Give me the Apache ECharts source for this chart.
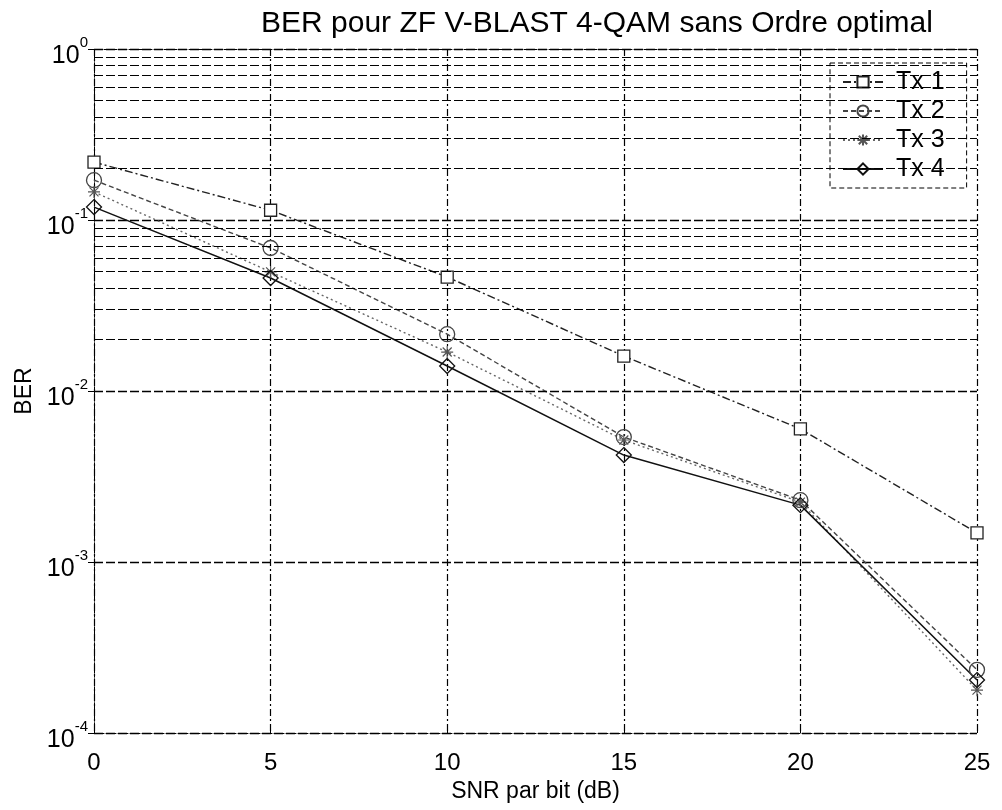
<!DOCTYPE html>
<html>
<head>
<meta charset="utf-8">
<script src="https://cdn.jsdelivr.net/npm/echarts@6/dist/echarts.min.js"></script>
<style>
  html, body { margin: 0; padding: 0; background: #fff; }
  #chart { width: 1002px; height: 810px; }
</style>
</head>
<body>
<div id="chart"></div>
<script>
// SNR axis (dB)
const snr = [0, 5, 10, 15, 20, 25];

// BER per transmit antenna
const tx1 = [0.218, 0.114, 0.0464, 0.0160, 0.0060, 0.00148];
const tx2 = [0.171, 0.0686, 0.0215, 0.00538, 0.00230, 0.000234];
const tx3 = [0.146, 0.0497, 0.0169, 0.00517, 0.00224, 0.000178];
const tx4 = [0.119, 0.0458, 0.0140, 0.00422, 0.00215, 0.000204];

const seriesNames = ['Tx 1', 'Tx 2', 'Tx 3', 'Tx 4'];

// y tick exponents (decades) and x ticks
const yExponents = [0, -1, -2, -3, -4];
const xTicks = [0, 5, 10, 15, 20, 25];

// minor grid values inside each decade (2..9 x 10^k)
const minorMultipliers = [2, 3, 4, 5, 6, 7, 8, 9];
const minorDecades = [-4, -3, -2, -1];

const minorLines = [];
minorDecades.forEach(function (k) {
  minorMultipliers.forEach(function (m) {
    minorLines.push({ yAxis: m * Math.pow(10, k) });
  });
});

const pair = function (ys) { return snr.map(function (x, i) { return [x, ys[i]]; }); };

const font = '"Liberation Sans", Arial, sans-serif';
const gridDash = [9, 3];

const asterisk = 'path://M0,-6L0,6M-6,0L6,0M-4.5,-4.5L4.5,4.5M-4.5,4.5L4.5,-4.5';

const chart = echarts.init(document.getElementById('chart'), null, { renderer: 'canvas' });

chart.setOption({
  animation: false,
  backgroundColor: '#fff',
  title: {
    text: 'BER pour ZF V-BLAST 4-QAM sans Ordre optimal',
    left: 256,
    top: 4,
    textStyle: { fontFamily: font, fontSize: 30, fontWeight: 'normal', color: '#000' }
  },
  legend: {
    data: seriesNames,
    orient: 'vertical',
    left: 830,
    top: 63,
    padding: [6, 22, 6, 12],
    itemGap: 3,
    itemWidth: 40,
    itemHeight: 14,
    backgroundColor: '#fff',
    borderColor: '#000',
    borderWidth: 1,
    borderType: [5, 3],
    textStyle: { fontFamily: font, fontSize: 25, color: '#000', lineHeight: 26, padding: [0, 0, 0, 8] }
  },
  grid: { left: 94, right: 25, top: 49, bottom: 77 },
  xAxis: [{
    type: 'value',
    min: 0,
    max: 25,
    interval: 5,
    name: 'SNR par bit (dB)',
    nameLocation: 'middle',
    nameGap: 42,
    nameTextStyle: { fontFamily: font, fontSize: 23, color: '#000' },
    axisLine: { show: true, lineStyle: { color: '#000', width: 1, type: [6, 2, 2, 2] } },
    axisTick: { show: true, inside: true, length: 6, lineStyle: { color: '#000' } },
    axisLabel: {
      margin: 18,
      fontFamily: font, fontSize: 24, color: '#000',
      formatter: function (v) { return xTicks.indexOf(v) >= 0 ? String(v) : ''; }
    },
    splitLine: { show: true, lineStyle: { color: '#000', width: 1.2, type: [7, 3, 2, 3] } }
  }, {
    type: 'value',
    position: 'top',
    min: 0,
    max: 25,
    interval: 5,
    axisLine: { show: true, lineStyle: { color: '#000', width: 1, type: [3, 2] } },
    axisTick: { show: true, inside: true, length: 6, lineStyle: { color: '#000' } },
    axisLabel: { show: false },
    splitLine: { show: false }
  }],
  yAxis: [{
    type: 'log',
    logBase: 10,
    min: 1e-4,
    max: 1,
    name: 'BER',
    nameLocation: 'middle',
    nameGap: 50,
    nameTextStyle: { fontFamily: font, fontSize: 23, color: '#000' },
    axisLine: { show: true, lineStyle: { color: '#000', width: 1, type: [6, 2, 2, 2] } },
    axisTick: { show: true, inside: true, length: 6, lineStyle: { color: '#000' } },
    axisLabel: {
      margin: 6,
      formatter: function (v) {
        const e = Math.round(Math.log10(v));
        if (yExponents.indexOf(e) < 0) return '';
        return '{b|10}{e|' + e + '}';
      },
      rich: {
        b: { fontFamily: font, fontSize: 25, color: '#000', padding: [14, 0, 0, 0] },
        e: { fontFamily: font, fontSize: 15, color: '#000', padding: [0, 0, 12, 0] }
      }
    },
    splitLine: { show: true, lineStyle: { color: '#000', width: 1.3, type: gridDash } }
  }, {
    type: 'log',
    logBase: 10,
    min: 1e-4,
    max: 1,
    position: 'right',
    axisLine: { show: true, lineStyle: { color: '#000', width: 1, type: [6, 2, 2, 2] } },
    axisTick: { show: true, inside: true, length: 6, lineStyle: { color: '#000' } },
    axisLabel: { show: false },
    splitLine: { show: false }
  }],
  series: [
    {
      name: 'minor-grid',
      type: 'line',
      data: [],
      silent: true,
      markLine: {
        silent: true,
        symbol: 'none',
        label: { show: false },
        lineStyle: { color: '#000', width: 1.2, type: gridDash },
        data: minorLines
      }
    },
    {
      name: 'Tx 1', type: 'line', data: pair(tx1),
      symbol: 'rect', symbolSize: 12,
      lineStyle: { color: '#222', width: 1.4, type: [8, 3, 2, 3] },
      itemStyle: { color: '#fff', borderColor: '#222', borderWidth: 1.3 }
    },
    {
      name: 'Tx 2', type: 'line', data: pair(tx2),
      symbol: 'circle', symbolSize: 15,
      lineStyle: { color: '#444', width: 1.4, type: [5, 3] },
      itemStyle: { color: 'rgba(255,255,255,0)', borderColor: '#444', borderWidth: 1.3 }
    },
    {
      name: 'Tx 3', type: 'line', data: pair(tx3),
      symbol: asterisk, symbolSize: 12,
      lineStyle: { color: '#666', width: 1.4, type: [2, 3] },
      itemStyle: { color: 'rgba(255,255,255,0)', borderColor: '#555', borderWidth: 1.2 }
    },
    {
      name: 'Tx 4', type: 'line', data: pair(tx4),
      symbol: 'diamond', symbolSize: 15,
      lineStyle: { color: '#111', width: 1.5, type: 'solid' },
      itemStyle: { color: 'rgba(255,255,255,0)', borderColor: '#111', borderWidth: 1.3 }
    }
  ]
});
</script>
</body>
</html>
